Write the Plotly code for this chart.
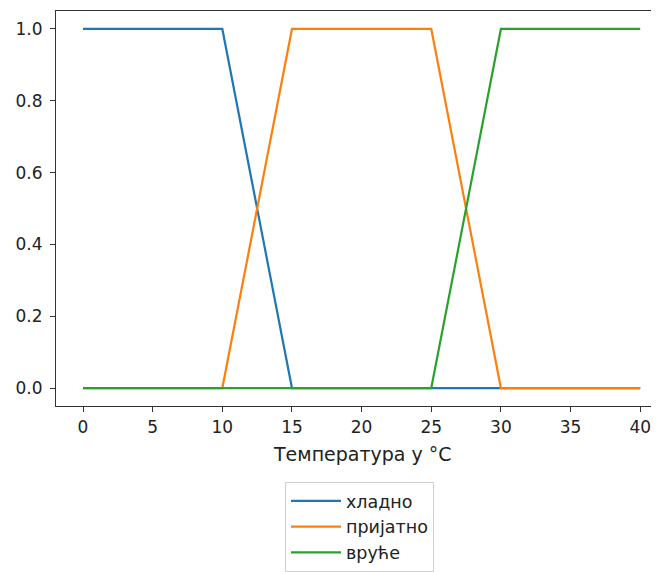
import plotly.graph_objects as go

temperature = [0, 10, 15, 25, 30, 40]
hladno = [1, 1, 0, 0, 0, 0]
prijatno = [0, 0, 1, 1, 0, 0]
vruce = [0, 0, 0, 0, 1, 1]
series_names = ["хладно", "пријатно", "вруће"]
colors = ["#1f77b4", "#ff7f0e", "#2ca02c"]
x_ticks = [0, 5, 10, 15, 20, 25, 30, 35, 40]
y_ticks = [0.0, 0.2, 0.4, 0.6, 0.8, 1.0]
x_label = "Температура у °C"

FONT = "DejaVu Sans"
FS = 17
OFF = 8  # page body margin

fig = go.Figure()
for i, (name, ys, c) in enumerate(zip(series_names, [hladno, prijatno, vruce], colors)):
    fig.add_trace(go.Scatter(x=temperature, y=ys, mode="lines", name=name,
                             legendgroup=f"g{i}",
                             line=dict(color=c, width=2.2)))

axis_common = dict(showgrid=False, zeroline=False, showline=True, linecolor="#333",
                   linewidth=1.2, ticks="outside", ticklen=5, tickcolor="#333",
                   tickwidth=1.2, automargin=False,
                   tickfont=dict(family=FONT, size=FS, color="#222"))

# plot domain spans 56..659 px on screen; x=0 at 83 px, x=40 at 640 px
fig.update_xaxes(range=[-1.94, 41.35], tickvals=x_ticks, mirror=True, **axis_common)
fig.update_yaxes(range=[-0.05, 1.05], tickvals=y_ticks, ticktext=[f"{v:.1f}" for v in y_ticks],
                 mirror=False, ticklabelstandoff=4, **axis_common)

fig.add_annotation(text=x_label, xref="paper", yref="paper",
                   x=(362 - 56) / 603, y=(409 - 457) / 398,
                   xanchor="center", yanchor="middle", showarrow=False,
                   font=dict(family=FONT, size=19, color="#222"))

fig.update_layout(
    width=659 - OFF, height=572 - OFF,
    margin=dict(l=56 - OFF, r=0, t=11 - OFF, b=163),
    plot_bgcolor="white", paper_bgcolor="white",
    font=dict(family=FONT, size=FS, color="#222"),
    legend=dict(x=(285 - 56) / 603, y=(409 - 486) / 398, xanchor="left", yanchor="top",
                bordercolor="#d0d0d0", borderwidth=1, bgcolor="white",
                traceorder="grouped", tracegroupgap=0, itemwidth=50,
                font=dict(family=FONT, size=17.5, color="#222")),
)

fig.write_html("out.html")
